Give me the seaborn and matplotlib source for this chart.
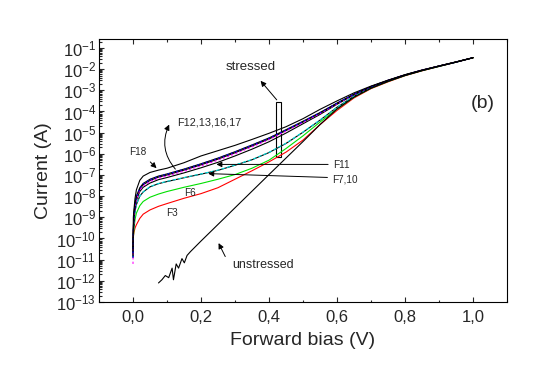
import matplotlib
matplotlib.use('Agg')
import numpy as np
import matplotlib.pyplot as plt
from matplotlib.patches import Rectangle
from matplotlib.ticker import LogLocator, MultipleLocator
import seaborn as sns

# forward bias grid (V) shared by the stressed curves
bias = [0.0, 0.001, 0.003, 0.006, 0.01, 0.02, 0.03, 0.05, 0.075, 0.1,
        0.15, 0.2, 0.25, 0.3, 0.35, 0.4, 0.45, 0.5, 0.55, 0.6,
        0.65, 0.7, 0.75, 0.8, 0.85, 0.9, 0.95, 1.0]

# log10 of current (A)
f18 = [-10.5, -9.0, -8.6, -8.1, -7.7, -7.25, -7.05, -6.88, -6.77, -6.68,
       -6.42, -6.1, -5.85, -5.6, -5.32, -5.03, -4.72, -4.34, -3.9, -3.5,
       -3.12, -2.8, -2.52, -2.26, -2.04, -1.85, -1.66, -1.46]
f12 = [-10.8, -9.5, -8.8, -8.3, -8.0, -7.6, -7.4, -7.2, -7.05, -6.95,
       -6.72, -6.47, -6.2, -5.9, -5.58, -5.25, -4.86, -4.46, -4.05, -3.6,
       -3.18, -2.82, -2.53, -2.27, -2.05, -1.85, -1.66, -1.46]
f13 = [-10.9, -9.5, -8.85, -8.35, -8.03, -7.62, -7.42, -7.22, -7.07, -6.96,
       -6.73, -6.48, -6.21, -5.91, -5.59, -5.26, -4.87, -4.47, -4.06, -3.61,
       -3.18, -2.82, -2.53, -2.27, -2.05, -1.85, -1.66, -1.46]
f16 = [-11.2, -9.7, -9.0, -8.5, -8.15, -7.72, -7.52, -7.31, -7.15, -7.05,
       -6.82, -6.57, -6.3, -6.0, -5.67, -5.33, -4.93, -4.52, -4.1, -3.64,
       -3.2, -2.83, -2.53, -2.27, -2.05, -1.85, -1.66, -1.46]
f17 = [-10.9, -9.6, -8.9, -8.4, -8.08, -7.66, -7.46, -7.26, -7.1, -7.0,
       -6.77, -6.52, -6.25, -5.95, -5.63, -5.3, -4.9, -4.5, -4.08, -3.62,
       -3.19, -2.83, -2.53, -2.27, -2.05, -1.85, -1.66, -1.46]
f11 = [-10.7, -9.7, -9.0, -8.55, -8.2, -7.78, -7.58, -7.38, -7.22, -7.12,
       -6.9, -6.66, -6.4, -6.1, -5.78, -5.43, -5.02, -4.58, -4.14, -3.66,
       -3.21, -2.84, -2.54, -2.28, -2.05, -1.85, -1.66, -1.46]
f7 = [-10.9, -9.8, -9.1, -8.7, -8.4, -8.0, -7.8, -7.55, -7.4, -7.3,
      -7.12, -6.95, -6.77, -6.53, -6.27, -5.93, -5.5, -4.97, -4.4, -3.8,
      -3.28, -2.88, -2.56, -2.29, -2.06, -1.86, -1.67, -1.46]
f10 = [-10.6, -9.8, -9.1, -8.7, -8.4, -8.0, -7.8, -7.56, -7.41, -7.31,
       -7.13, -6.96, -6.78, -6.54, -6.28, -5.94, -5.51, -4.98, -4.41, -3.8,
       -3.28, -2.88, -2.56, -2.29, -2.06, -1.86, -1.67, -1.46]
f6 = [-10.5, -10.0, -9.5, -9.1, -8.8, -8.45, -8.25, -8.05, -7.9, -7.78,
      -7.58, -7.4, -7.2, -6.98, -6.68, -6.3, -5.75, -5.15, -4.5, -3.88,
      -3.32, -2.9, -2.58, -2.3, -2.07, -1.87, -1.67, -1.46]
f3 = [-10.4, -9.9, -9.7, -9.5, -9.35, -9.05, -8.85, -8.65, -8.48, -8.35,
      -8.1, -7.88, -7.6, -7.2, -6.8, -6.38, -5.92, -5.35, -4.62, -3.95,
      -3.36, -2.92, -2.6, -2.31, -2.08, -1.87, -1.67, -1.46]

unstressed_bias = [0.075, 0.085, 0.095, 0.105, 0.115, 0.119, 0.127, 0.134,
                   0.144, 0.151, 0.159, 0.169, 0.2, 0.3, 0.4, 0.5, 0.55,
                   0.6, 0.65, 0.7, 0.75, 0.8, 0.85, 0.9, 0.95, 1.0]
unstressed = [-12.1, -11.95, -11.75, -11.85, -11.4, -11.95, -11.2, -11.4,
              -10.95, -11.15, -10.8, -10.62, -10.12, -8.55, -6.98, -5.42, -4.62,
              -3.88, -3.32, -2.9, -2.58, -2.3, -2.07, -1.87, -1.67, -1.46]

x_ticks = [0.0, 0.2, 0.4, 0.6, 0.8, 1.0]
x_tick_labels = ['0,0', '0,2', '0,4', '0,6', '0,8', '1,0']
y_exponents = list(range(-13, 0))

sns.set_style('ticks')
plt.rcParams['font.family'] = ['Liberation Sans', 'DejaVu Sans']
plt.rcParams['mathtext.default'] = 'regular'

fig = plt.figure(figsize=(5.4, 3.86), dpi=100)
ax = fig.add_axes([99 / 540, 1 - 302 / 386, 408 / 540, 263 / 386])

curves = [
    (f3, 'red', '-'),
    (f6, '#00e000', '-'),
    (f10, 'black', '-'),
    (f7, '#00e0e0', (0, (3, 2))),
    (f11, 'black', '-'),
    (f17, 'black', '-'),
    (f16, 'magenta', (0, (2, 2))),
    (f12, 'black', '-'),
    (f13, 'blue', (0, (1.5, 2.5))),
    (f18, 'black', '-'),
]
for vals, color, ls in curves:
    sns.lineplot(x=bias, y=np.power(10.0, vals), color=color, linestyle=ls,
                 lw=0.8, estimator=None, sort=False, ax=ax)
sns.lineplot(x=unstressed_bias, y=np.power(10.0, unstressed), color='black',
             lw=0.8, estimator=None, sort=False, ax=ax)

ax.set_yscale('log')
ax.set_xlim(-0.1, 1.1)
ax.set_ylim(1e-13, 10 ** -0.575)
ax.set_xticks(x_ticks, labels=x_tick_labels)
ax.xaxis.set_minor_locator(MultipleLocator(0.1))
ax.set_yticks([10.0 ** k for k in y_exponents],
              labels=[f'$10^{{{k}}}$' for k in y_exponents])
ax.yaxis.set_minor_locator(LogLocator(base=10, subs=np.arange(2, 10), numticks=200))
ax.tick_params(which='both', direction='in', top=True, right=False, width=0.8)
ax.tick_params(which='major', length=3.5, labelsize=12)
ax.tick_params(which='minor', length=1.8)
ax.tick_params(axis='x', pad=6)
ax.tick_params(axis='y', pad=2)
for s in ax.spines.values():
    s.set_linewidth(0.8)
    s.set_color('black')

ax.set_xlabel('Forward bias (V)', fontsize=14, labelpad=5)
ax.set_ylabel('Current (A)', fontsize=14, labelpad=3)

# stressed bracket
ax.add_patch(Rectangle((0.422, 10 ** -6.15), 0.013, 10 ** -3.55 - 10 ** -6.15,
                       fill=False, lw=0.8, ec='black'))
ax.annotate('', xy=(0.37, 10 ** -2.45), xytext=(0.428, 10 ** -3.55),
            arrowprops=dict(arrowstyle='-|>', lw=0.7, color='black',
                            mutation_scale=8))
ax.text(0.345, 10 ** -1.9, 'stressed', fontsize=9.5, ha='center', va='center')
ax.text(1.03, 10 ** -3.6, '(b)', fontsize=14, ha='center', va='center')

ax.text(0.131, 10 ** -4.54, 'F12,13,16,17', fontsize=7.8, ha='left', va='center')
ax.annotate('', xy=(0.11, 10 ** -4.5), xytext=(0.13, 10 ** -6.82),
            arrowprops=dict(arrowstyle='-|>', lw=0.7, color='black',
                            mutation_scale=8, connectionstyle='arc3,rad=-0.35'))
ax.text(0.015, 10 ** -5.9, 'F18', fontsize=7.2, ha='center', va='center')
ax.annotate('', xy=(0.075, 10 ** -6.77), xytext=(0.045, 10 ** -6.29),
            arrowprops=dict(arrowstyle='-|>', lw=0.7, color='black',
                            mutation_scale=8))
ax.text(0.59, 10 ** -6.53, 'F11', fontsize=7.2, ha='left', va='center')
ax.annotate('', xy=(0.237, 10 ** -6.5), xytext=(0.582, 10 ** -6.5),
            arrowprops=dict(arrowstyle='-|>', lw=0.7, color='black',
                            mutation_scale=8))
ax.text(0.587, 10 ** -7.19, 'F7,10', fontsize=7.2, ha='left', va='center')
ax.annotate('', xy=(0.213, 10 ** -6.93), xytext=(0.58, 10 ** -7.12),
            arrowprops=dict(arrowstyle='-|>', lw=0.7, color='black',
                            mutation_scale=8))
ax.text(0.169, 10 ** -7.86, 'F6', fontsize=7.2, ha='center', va='center')
ax.text(0.116, 10 ** -8.8, 'F3', fontsize=7.2, ha='center', va='center')
ax.text(0.292, 10 ** -11.25, 'unstressed', fontsize=9, ha='left', va='center')
ax.annotate('', xy=(0.248, 10 ** -10.1), xytext=(0.275, 10 ** -10.97),
            arrowprops=dict(arrowstyle='-|>', lw=0.7, color='black',
                            mutation_scale=8))

fig.savefig('out.png', dpi=100)
